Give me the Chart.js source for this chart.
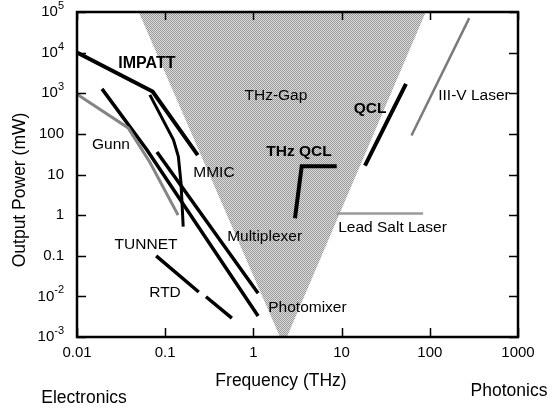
<!DOCTYPE html>
<html>
<head>
<meta charset="utf-8">
<script src="https://cdn.jsdelivr.net/npm/chart.js@4.4.1/dist/chart.umd.min.js"></script>
<style>
    body { margin: 0; background: #fff; }
</style>
</head>
<body>
<canvas id="chart" width="552" height="410"></canvas>
<script>
// frequency in THz, output power in mW (both log)
var xTicks = [0.01, 0.1, 1, 10, 100, 1000];
var xTickLabels = ['0.01', '0.1', '1', '10', '100', '1000'];
var yTicks = [1e-3, 1e-2, 0.1, 1, 10, 100, 1e3, 1e4, 1e5];
var yTickLabels = ['10^-3', '10^-2', '0.1', '1', '10', '100', '10^3', '10^4', '10^5'];

// the THz gap wedge
var gapX = [0.05, 2.0, 2.4, 90];
var gapY = [1e5, 1e-3, 1e-3, 1e5];

var impattX = [0.01, 0.072, 0.234];
var impattY = [1e4, 1100, 30];
var mmicX = [0.067, 0.124, 0.141, 0.151, 0.16];
var mmicY = [910, 71, 27.6, 6.2, 0.52];
var gunnX = [0.01, 0.038, 0.067, 0.14];
var gunnY = [950, 140, 20, 1.0];
var photomixerX = [0.0192, 0.0622, 1.13];
var photomixerY = [1283, 40, 0.0033];
var multiplexerX = [0.0806, 1.13];
var multiplexerY = [36, 0.012];
var tunnetX = [0.079, 0.24, 0.26, 0.29, 0.57];
var tunnetY = [0.099, 0.0128, null, 0.0098, 0.0029];
var thzQclX = [2.96, 3.53, 8.8];
var thzQclY = [0.84, 16, 16];
var leadSaltX = [8.8, 84];
var leadSaltY = [1.1, 1.1];
var qclX = [18.4, 53.7];
var qclY = [16.6, 1700];
var laserX = [62, 280];
var laserY = [91, 70800];

var labelTexts = ['IMPATT', 'THz-Gap', 'QCL', 'III-V Laser', 'Gunn', 'MMIC', 'THz QCL',
    'Multiplexer', 'Lead Salt Laser', 'TUNNET', 'RTD', 'Photomixer'];
var labelX = [0.062, 1.8, 21, 317, 0.0243, 0.357, 3.29, 1.34, 37.8, 0.0606, 0.0995, 4.1];
var labelY = [5300, 863, 413, 863, 53.6, 10.9, 36, 0.30, 0.5, 0.19, 0.0125, 0.0053];
var labelBold = ['IMPATT', 'QCL', 'THz QCL'];

var FONT = '"Liberation Sans", Arial, Helvetica, sans-serif';

function toPoints(xs, ys) {
    return xs.map(function (x, i) { return { x: x, y: ys[i] }; });
}

function lineSet(xs, ys, color, width) {
    return {
        data: toPoints(xs, ys),
        showLine: true,
        borderColor: color,
        borderWidth: width,
        pointRadius: 0,
        fill: false,
        spanGaps: false,
        tension: 0,
        order: 1
    };
}

// halftone-like dots for the gap
function makePattern(ctx) {
    let c = document.createElement('canvas');
    c.width = 2;
    c.height = 2;
    let g = c.getContext('2d');
    g.fillStyle = '#dcdcdc';
    g.fillRect(0, 0, 2, 2);
    g.fillStyle = '#999999';
    g.fillRect(0, 0, 1, 1);
    g.fillRect(1, 1, 1, 1);
    return ctx.createPattern(c, 'repeat');
}

function drawSupLabel(ctx, text, right, y) {
    let parts = text.split('^');
    if (parts.length === 1) {
        ctx.font = '15px ' + FONT;
        ctx.textAlign = 'right';
        ctx.fillText(text, right, y);
        return;
    }
    ctx.font = '11px ' + FONT;
    let supW = ctx.measureText(parts[1]).width;
    ctx.textAlign = 'left';
    ctx.fillText(parts[1], right - supW, y - 6);
    ctx.font = '15px ' + FONT;
    ctx.textAlign = 'right';
    ctx.fillText(parts[0], right - supW, y);
}

var overlay = {
    id: 'overlay',
    afterDatasetsDraw: function (chart) {
        let ctx = chart.ctx;
        let xs = chart.scales.x;
        let ys = chart.scales.y;
        let a = chart.chartArea;
        ctx.save();

        // frame and inward ticks
        ctx.strokeStyle = '#000';
        ctx.lineWidth = 2.5;
        ctx.strokeRect(a.left, a.top, a.right - a.left, a.bottom - a.top);
        ctx.lineWidth = 1.5;
        ctx.beginPath();
        xTicks.forEach(function (v) {
            let px = Math.round(xs.getPixelForValue(v)) + 0.5;
            ctx.moveTo(px, a.bottom);
            ctx.lineTo(px, a.bottom - 9);
            ctx.moveTo(px, a.top);
            ctx.lineTo(px, a.top + 8);
        });
        yTicks.forEach(function (v) {
            let py = Math.round(ys.getPixelForValue(v)) + 0.5;
            ctx.moveTo(a.left, py);
            ctx.lineTo(a.left + 9, py);
            ctx.moveTo(a.right, py);
            ctx.lineTo(a.right - 9, py);
        });
        ctx.stroke();

        // tick labels
        ctx.fillStyle = '#000';
        ctx.textBaseline = 'middle';
        ctx.font = '15px ' + FONT;
        ctx.textAlign = 'center';
        xTicks.forEach(function (v, i) {
            ctx.fillText(xTickLabels[i], xs.getPixelForValue(v), a.bottom + 16);
        });
        yTicks.forEach(function (v, i) {
            drawSupLabel(ctx, yTickLabels[i], a.left - 13, ys.getPixelForValue(v));
        });

        // series labels
        labelTexts.forEach(function (t, i) {
            let bold = labelBold.indexOf(t) >= 0;
            ctx.font = (bold ? 'bold ' : '') + (t === 'IMPATT' ? '16px ' : '15.5px ') + FONT;
            ctx.textAlign = 'center';
            ctx.fillText(t, xs.getPixelForValue(labelX[i]), ys.getPixelForValue(labelY[i]));
        });

        // axis titles
        ctx.font = '17.5px ' + FONT;
        ctx.fillText('Frequency (THz)', 281, 381);
        ctx.fillText('Electronics', 84, 398);
        ctx.fillText('Photonics', 509, 391);
        ctx.translate(20, 190);
        ctx.rotate(-Math.PI / 2);
        ctx.fillText('Output Power (mW)', 0, 0);

        ctx.restore();
    }
};

let canvas = document.getElementById('chart');
let ctx = canvas.getContext('2d');

let gapSet = {
    data: toPoints(gapX, gapY),
    showLine: true,
    borderColor: 'rgba(0,0,0,0)',
    borderWidth: 0,
    backgroundColor: makePattern(ctx),
    pointRadius: 0,
    fill: 'shape',
    tension: 0,
    order: 10
};

new Chart(canvas, {
    type: 'scatter',
    data: {
        datasets: [
            lineSet(impattX, impattY, '#000', 4),
            lineSet(mmicX, mmicY, '#000', 3),
            lineSet(gunnX, gunnY, '#858585', 3),
            lineSet(photomixerX, photomixerY, '#000', 3.5),
            lineSet(multiplexerX, multiplexerY, '#000', 3.5),
            lineSet(tunnetX, tunnetY, '#000', 3.5),
            lineSet(thzQclX, thzQclY, '#000', 4),
            lineSet(leadSaltX, leadSaltY, '#9a9a9a', 2.5),
            lineSet(qclX, qclY, '#000', 4),
            lineSet(laserX, laserY, '#7a7a7a', 2.5),
            gapSet
        ]
    },
    options: {
        responsive: false,
        animation: false,
        layout: {
            padding: { left: 77, top: 12, right: 34, bottom: 73 }
        },
        plugins: {
            legend: { display: false },
            tooltip: { enabled: false }
        },
        scales: {
            x: { type: 'logarithmic', min: 0.01, max: 1000, display: false },
            y: { type: 'logarithmic', min: 1e-3, max: 1e5, display: false }
        }
    },
    plugins: [overlay]
});
</script>
</body>
</html>
